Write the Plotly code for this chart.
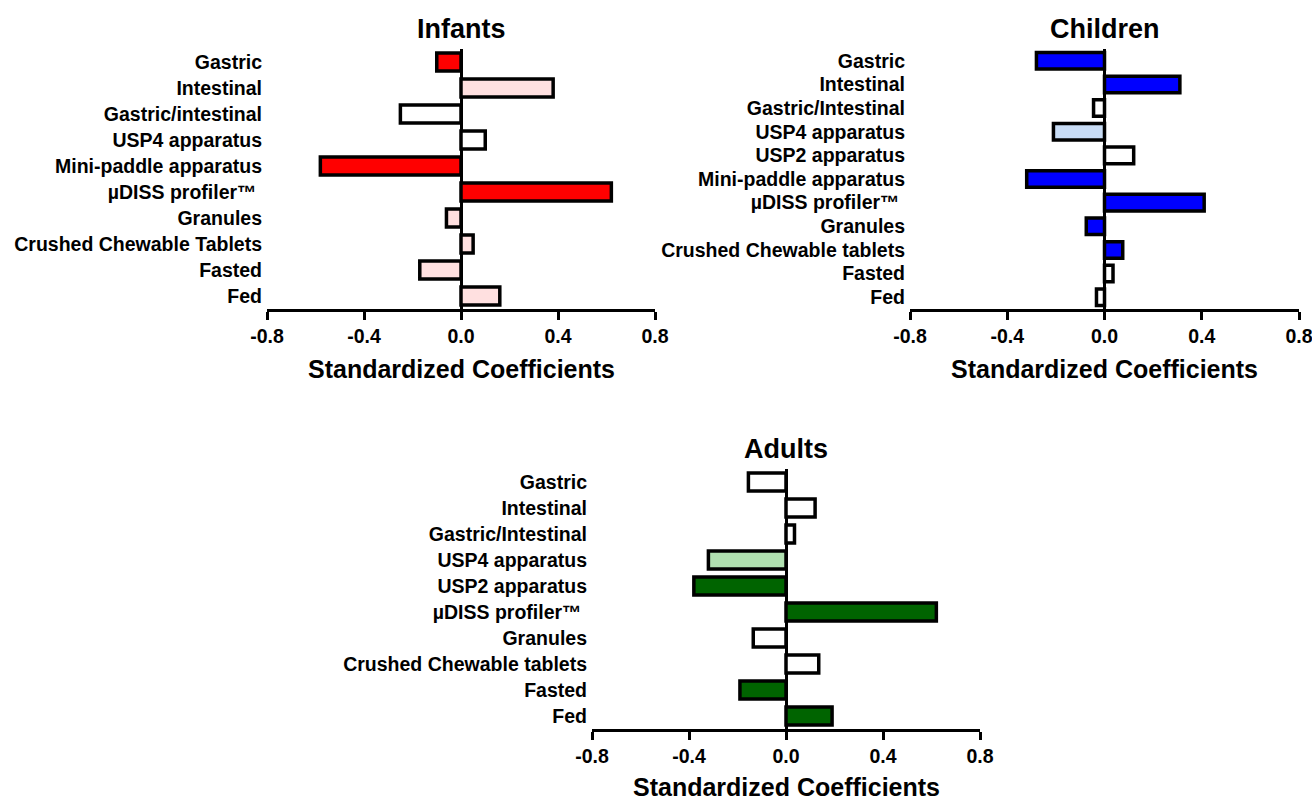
import plotly.graph_objects as go

# ---- data -------------------------------------------------------------
infant_labels = ["Gastric", "Intestinal", "Gastric/intestinal", "USP4 apparatus",
                 "Mini-paddle apparatus", "\u00b5DISS profiler\u2122\u00a0", "Granules",
                 "Crushed Chewable Tablets", "Fasted", "Fed"]
infant_values = [-0.10, 0.38, -0.25, 0.10, -0.58, 0.62, -0.06, 0.05, -0.17, 0.16]
infant_colors = ["#FF0000", "#FFE0E0", "#FFFFFF", "#FFFFFF", "#FF0000",
                 "#FF0000", "#FFE0E0", "#FFE0E0", "#FFE0E0", "#FFE0E0"]

child_labels = ["Gastric", "Intestinal", "Gastric/Intestinal", "USP4 apparatus",
                "USP2 apparatus", "Mini-paddle apparatus", "\u00b5DISS profiler\u2122\u00a0",
                "Granules", "Crushed Chewable tablets", "Fasted", "Fed"]
child_values = [-0.28, 0.31, -0.045, -0.21, 0.12, -0.32, 0.41, -0.075, 0.075, 0.035, -0.033]
child_colors = ["#0000FF", "#0000FF", "#FFFFFF", "#C8DCF5", "#FFFFFF", "#0000FF",
                "#0000FF", "#0000FF", "#0000FF", "#FFFFFF", "#FFFFFF"]

adult_labels = ["Gastric", "Intestinal", "Gastric/Intestinal", "USP4 apparatus",
                "USP2 apparatus", "\u00b5DISS profiler\u2122\u00a0", "Granules",
                "Crushed Chewable tablets", "Fasted", "Fed"]
adult_values = [-0.155, 0.12, 0.035, -0.32, -0.38, 0.62, -0.135, 0.135, -0.19, 0.19]
adult_colors = ["#FFFFFF", "#FFFFFF", "#FFFFFF", "#B0E0B0", "#006400",
                "#006400", "#FFFFFF", "#FFFFFF", "#006400", "#006400"]

x_ticks = [-0.8, -0.4, 0.0, 0.4, 0.8]
x_ticktext = ["-0.8", "-0.4", "0.0", "0.4", "0.8"]
x_title = "Standardized Coefficients"

W, H = 1312, 800
FONT = "Liberation Sans, Arial, sans-serif"

# panel: (labels, values, colors, title, x0, x1, ytop, ybottom, xtitle offset) in screen pixels
panels = [
    (infant_labels, infant_values, infant_colors, "Infants", 267, 655, 49, 309, 60),
    (child_labels, child_values, child_colors, "Children", 910, 1299, 49, 309, 60),
    (adult_labels, adult_values, adult_colors, "Adults", 592, 980, 469, 729, 58),
]


def px_x(v):
    return v / W


def px_y(v):
    return 1 - v / H


fig = go.Figure()
annotations = []

for i, (labels, values, colors, title, x0, x1, yt, yb, tgap) in enumerate(panels, start=1):
    xa = "x" if i == 1 else f"x{i}"
    ya = "y" if i == 1 else f"y{i}"
    fig.add_trace(go.Bar(
        x=values, y=labels, orientation="h",
        marker=dict(color=colors, line=dict(color="black", width=3.5)),
        width=0.7, xaxis=xa, yaxis=ya, showlegend=False,
    ))
    n = len(labels)
    xkey = "xaxis" if i == 1 else f"xaxis{i}"
    ykey = "yaxis" if i == 1 else f"yaxis{i}"
    fig.update_layout(**{
        xkey: dict(
            domain=[px_x(x0), px_x(x1)], anchor=ya, range=[-0.8, 0.8],
            tickvals=x_ticks, ticktext=x_ticktext, automargin=False,
            showline=True, linecolor="black", linewidth=2.5,
            ticks="outside", ticklen=8, tickwidth=2.5, tickcolor="black",
            showgrid=False, zeroline=True, zerolinecolor="black", zerolinewidth=2.5,
            tickfont=dict(family=FONT, size=19.5, color="black", weight="bold"),
            ticklabeloverflow="allow",
            fixedrange=True,
        ),
        ykey: dict(
            domain=[px_y(yb), px_y(yt)], anchor=xa, automargin=False,
            type="category", categoryorder="array", categoryarray=labels,
            range=[n - 0.5, -0.5], showline=False, showgrid=False, zeroline=False,
            ticks="", ticklabelstandoff=4,
            tickfont=dict(family=FONT, size=19.5, color="black", weight="bold"),
            fixedrange=True,
        ),
    })
    cx = px_x((x0 + x1) / 2)
    # panel title
    annotations.append(dict(
        text=title, x=cx, y=px_y(yt - 20), xanchor="center", yanchor="middle",
        xref="paper", yref="paper", showarrow=False,
        font=dict(family=FONT, size=27, color="black", weight="bold"),
    ))
    # x-axis title
    annotations.append(dict(
        text=x_title, x=cx, y=px_y(yb + tgap), xanchor="center", yanchor="middle",
        xref="paper", yref="paper", showarrow=False, borderpad=0,
        font=dict(family=FONT, size=25, color="black", weight="bold"),
    ))

fig.update_layout(
    width=W, height=H,
    margin=dict(l=0, r=0, t=0, b=0),
    paper_bgcolor="white", plot_bgcolor="white",
    annotations=annotations,
    bargap=0.3,
)

# drop the default page margin so the figure fills the window exactly
fig.write_html("out.html", config={"displayModeBar": False},
               post_script="document.body.style.margin='0';")
